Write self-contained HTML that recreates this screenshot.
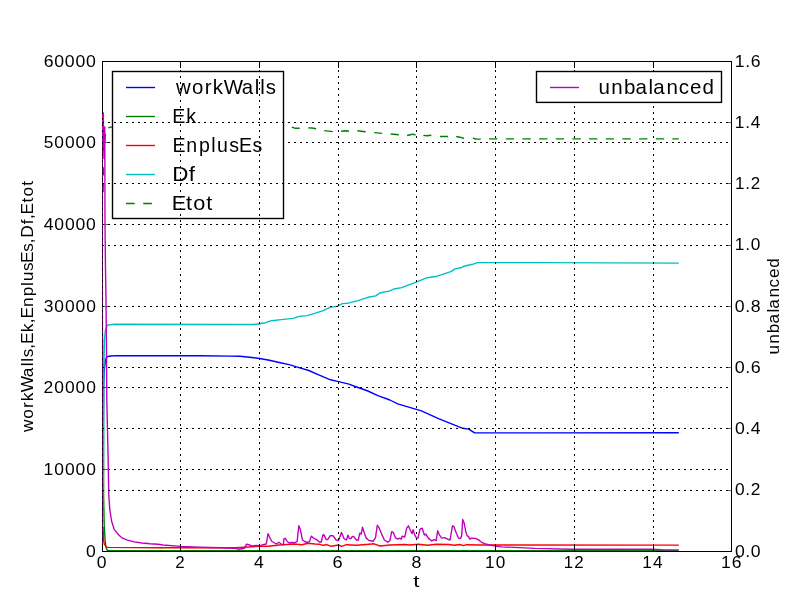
<!DOCTYPE html>
<html><head><meta charset="utf-8"><title>plot</title>
<style>html,body{margin:0;padding:0;background:#fff;}body{width:812px;height:612px;overflow:hidden;font-family:"Liberation Sans",sans-serif;}svg{display:block;will-change:transform;}</style>
</head><body>
<svg width="812" height="612" viewBox="0 0 812 612">
<rect x="0" y="0" width="812" height="612" fill="#fff"/>
<defs><clipPath id="c"><rect x="102" y="60.75" width="629.3" height="490.7"/></clipPath></defs>
<rect x="102.5" y="61.5" width="629.0" height="490.0" fill="none" stroke="#000" stroke-width="1" shape-rendering="crispEdges"/>
<g clip-path="url(#c)" fill="none" stroke-width="1.39" stroke-linejoin="round">
<path d="M101.8,550.8 L103.2,470.0 L103.4,420.0 L103.7,385.0 L104.3,370.0 L105.3,361.0 L106.3,358.0 L107.4,356.5 L111.0,356.0 L116.0,355.6 L200.0,355.8 L230.0,356.1 L239.9,356.2 L249.7,357.3 L259.6,358.5 L269.4,360.3 L279.3,362.5 L289.1,364.6 L299.0,367.6 L308.8,370.5 L318.7,374.9 L330.5,379.8 L338.4,381.6 L348.2,383.9 L358.1,387.5 L367.9,391.0 L377.8,395.6 L389.9,400.0 L397.7,403.9 L409.6,407.4 L421.4,410.8 L439.1,418.9 L462.8,428.3 L468.7,429.1 L474.6,432.9 L540.0,432.9 L678.8,432.7" stroke="#0000ff"/>
<path d="M102.1,127.0 L102.4,330.0 L103.4,400.0 L103.6,495.0 L104.2,525.0 L105.1,540.0 L105.9,547.0 L107.0,550.0 L109.0,550.8 L678.8,550.8" stroke="#008000"/>
<path d="M103.1,527.0 L103.5,540.0 L104.3,544.0 L105.8,546.3 L107.0,547.3 L108.0,547.4 L160.0,547.8 L235.0,547.7 L244.8,547.2 L259.6,546.3 L268.5,546.3 L279.3,545.0 L294.1,544.0 L302.0,544.7 L307.9,543.3 L315.0,544.0 L319.9,544.3 L322.8,545.3 L326.7,544.7 L331.2,546.3 L338.6,545.0 L341.5,546.3 L346.5,544.7 L356.3,545.3 L366.2,544.5 L374.0,543.8 L380.0,546.0 L390.0,545.0 L404.7,544.5 L409.6,545.0 L418.5,544.3 L427.4,545.3 L436.2,544.3 L449.0,544.5 L454.0,545.3 L459.9,544.5 L463.4,545.7 L466.8,544.7 L480.0,545.0 L678.8,545.1" stroke="#ff0000"/>
<path d="M101.8,550.8 L103.5,470.0 L103.9,369.0 L104.4,339.6 L105.4,329.7 L107.4,325.3 L110.0,324.8 L114.7,324.3 L230.0,324.5 L253.6,324.5 L259.6,323.7 L265.5,322.7 L271.4,320.7 L281.2,319.6 L293.1,318.4 L299.0,316.4 L306.8,315.6 L314.7,313.4 L322.6,310.9 L330.5,307.1 L337.4,306.2 L342.3,303.6 L348.2,303.2 L358.1,300.6 L367.9,297.3 L375.8,295.9 L379.8,293.0 L389.9,290.9 L393.8,289.0 L401.7,287.6 L415.5,282.3 L427.3,277.7 L437.1,276.2 L450.9,271.6 L454.9,268.9 L461.8,267.5 L463.7,266.3 L472.6,264.3 L477.5,262.6 L540.0,262.6 L678.8,263.1" stroke="#00bfbf"/>
<path d="M103.1,192.3 L103.3,184.0 M103.4,175.6 L103.6,167.3 M104.0,159.0 L104.3,150.6 M104.8,142.3 L105.4,134.0 M108.3,127.7 L112.0,126.9 M291.8,127.1 L295.5,128.3 L299.7,128.3 M308.2,127.9 L312.0,128.0 L316.1,128.8 M324.3,130.6 L332.8,131.6 M341.1,131.2 L346.0,130.8 L349.0,131.2 M357.4,130.8 L365.7,131.8 M374.2,132.6 L382.1,133.4 M390.7,134.0 L398.8,134.8 M407.1,135.5 L412.5,134.2 L415.6,135.0 M423.4,135.4 L427.0,135.7 L431.3,135.2 M439.9,136.5 L448.1,136.5 M456.2,136.5 L460.0,137.2 L463.9,138.5 M472.8,138.1 L476.0,139.0 L480.8,139.1 M489.1,138.9 L497.4,138.9 M505.8,138.9 L514.1,138.9 M522.4,138.9 L530.8,138.9 M539.1,138.9 L547.4,138.9 M555.8,138.9 L564.1,138.9 M572.4,138.9 L580.8,138.9 M589.1,138.9 L597.4,138.9 M605.8,138.9 L614.1,138.9 M622.4,138.9 L630.8,138.9 M639.1,138.9 L647.4,138.9 M655.8,138.9 L664.1,138.9 M672.4,138.9 L678.8,138.9" stroke="#008000"/>
</g>
<path d="M102.5,63.9V551 M180.5,63.9V551 M259.5,63.9V551 M338.5,63.9V551 M416.5,63.9V551 M495.5,63.9V551 M574.5,63.9V551 M653.5,63.9V551 M731.5,63.9V551" stroke="#000" stroke-width="1" stroke-dasharray="2 4" fill="none" shape-rendering="crispEdges"/>
<path d="M102,469.5H732 M102,387.5H732 M102,306.5H732 M102,224.5H732 M102,142.5H732" stroke="#000" stroke-width="1" stroke-dasharray="2 4" fill="none" shape-rendering="crispEdges"/>
<path d="M102.5,551V545.5 M102.5,62V67.5 M180.5,551V545.5 M180.5,62V67.5 M259.5,551V545.5 M259.5,62V67.5 M338.5,551V545.5 M338.5,62V67.5 M416.5,551V545.5 M416.5,62V67.5 M495.5,551V545.5 M495.5,62V67.5 M574.5,551V545.5 M574.5,62V67.5 M653.5,551V545.5 M653.5,62V67.5 M731.5,551V545.5 M731.5,62V67.5" stroke="#000" stroke-width="1" fill="none" shape-rendering="crispEdges"/>
<path d="M103,469.5H108 M103,387.5H108 M103,306.5H108 M103,224.5H108 M103,142.5H108" stroke="#000" stroke-opacity="0.62" stroke-width="1" fill="none" shape-rendering="crispEdges"/>
<rect x="112.5" y="71.5" width="171" height="147" fill="#fff" stroke="#000" stroke-width="1.39"/>
<path d="M126,87.5H155" stroke="#0000ff" stroke-width="1.39" fill="none"/>
<path d="M126,116.5H155" stroke="#008000" stroke-width="1.39" fill="none"/>
<path d="M126,145.5H155" stroke="#ff0000" stroke-width="1.39" fill="none"/>
<path d="M126,174.5H155" stroke="#00bfbf" stroke-width="1.39" fill="none"/>
<path d="M126,203.5H155" stroke="#008000" stroke-width="1.39" stroke-dasharray="8.7 8.5" fill="none"/>
<text transform="scale(0.9954,1)" x="176.77 192.85 205.81 213.82 224.84 242.88 255.99 261.58 266.89" y="93.60" font-family="Liberation Sans, sans-serif" font-size="20.50" fill="#000">workWalls</text>
<text transform="scale(0.9546,1)" x="180.48 195.13" y="122.60" font-family="Liberation Sans, sans-serif" font-size="20.50" fill="#000">Ek</text>
<text transform="scale(0.9544,1)" x="180.63 195.12 208.51 221.35 227.43 240.29 250.48 264.45" y="151.60" font-family="Liberation Sans, sans-serif" font-size="20.50" fill="#000">EnplusEs</text>
<text transform="scale(1.0934,1)" x="157.54 172.57" y="180.60" font-family="Liberation Sans, sans-serif" font-size="20.50" fill="#000">Df</text>
<text transform="scale(1.0584,1)" x="162.17 175.86 182.55 194.83" y="209.60" font-family="Liberation Sans, sans-serif" font-size="20.50" fill="#000">Etot</text>
<rect x="102.5" y="61.5" width="629.0" height="490.0" fill="none" stroke="#000" stroke-width="1" shape-rendering="crispEdges"/>
<g clip-path="url(#c)" fill="none" stroke-width="1.39" stroke-linejoin="round">
<path d="M101.8,544.0 L101.8,150.0 L102.6,113.0 L103.3,113.0 L103.7,150.0 L104.7,159.0 L104.8,127.0 L105.0,225.0 L105.5,270.0 L106.0,300.0 L106.4,340.0 L106.8,400.0 L108.0,452.0 L108.8,495.0 L109.8,509.7 L111.7,521.5 L114.2,529.3 L117.6,533.7 L121.5,537.6 L127.4,540.1 L134.3,541.9 L142.1,543.0 L150.0,543.8 L158.0,544.3 L163.0,545.0 L180.5,546.4 L199.6,547.2 L220.5,547.7 L235.0,548.4 L238.9,549.2 L244.4,548.2 L246.6,544.2 L248.8,544.7 L251.7,546.0 L256.2,545.5 L259.6,545.8 L263.1,544.7 L266.3,544.0 L268.0,533.6 L269.5,537.1 L271.9,541.5 L276.4,544.0 L278.8,542.3 L281.3,544.0 L283.3,545.0 L284.0,538.6 L285.2,538.3 L287.2,541.5 L289.2,543.0 L291.2,542.5 L294.1,542.8 L297.1,541.7 L298.8,525.8 L300.0,528.2 L302.5,540.0 L304.9,541.7 L307.4,542.3 L309.4,541.7 L311.3,536.1 L313.4,538.1 L315.9,539.1 L319.4,542.0 L321.3,542.0 L322.8,535.1 L323.8,534.6 L326.3,539.6 L327.7,539.6 L330.2,535.6 L333.2,535.8 L336.1,540.0 L338.6,540.5 L341.5,532.5 L344.0,538.6 L346.5,540.0 L347.9,535.1 L349.4,538.6 L350.9,538.6 L352.4,536.4 L353.8,536.6 L356.3,540.0 L358.3,540.0 L359.8,533.2 L361.2,534.1 L362.5,527.2 L364.2,532.7 L366.2,538.1 L369.1,540.5 L373.1,541.3 L375.5,537.6 L377.3,525.3 L379.0,527.7 L381.9,534.6 L384.4,540.0 L387.8,542.2 L389.9,540.5 L391.7,531.7 L393.4,532.7 L395.3,537.6 L397.8,539.1 L399.8,538.1 L401.3,539.1 L402.2,536.1 L404.7,537.1 L406.7,528.2 L408.4,525.8 L410.1,529.7 L412.1,533.6 L413.1,529.7 L414.6,534.6 L416.5,538.1 L418.0,538.1 L420.0,529.2 L422.2,528.2 L424.4,535.1 L425.9,534.1 L428.3,538.1 L431.8,541.0 L433.8,539.6 L436.2,540.5 L437.7,530.7 L439.2,534.6 L441.7,538.1 L444.6,537.6 L447.6,539.1 L450.0,540.0 L452.5,525.8 L454.0,526.7 L455.4,530.7 L456.5,533.6 L458.4,538.1 L460.4,538.6 L461.7,535.6 L462.7,519.4 L464.1,522.8 L465.8,531.7 L467.3,536.1 L468.3,536.1 L469.8,539.1 L471.7,538.1 L475.2,538.4 L478.2,539.6 L481.6,542.3 L484.6,543.7 L489.5,545.0 L495.4,546.0 L501.3,546.9 L514.1,547.4 L535.0,548.4 L569.4,549.2 L652.2,549.2 L664.0,549.9 L678.8,549.9" stroke="#bf00bf"/>
</g>
<path d="M102.5,63.9V551 M180.5,63.9V551 M259.5,63.9V551 M338.5,63.9V551 M416.5,63.9V551 M495.5,63.9V551 M574.5,63.9V551 M653.5,63.9V551 M731.5,63.9V551" stroke="#000" stroke-width="1" stroke-dasharray="2 4" fill="none" shape-rendering="crispEdges"/>
<path d="M102,490.5H732 M102,428.5H732 M102,367.5H732 M102,306.5H732 M102,245.5H732 M102,183.5H732 M102,122.5H732" stroke="#000" stroke-width="1" stroke-dasharray="2 4" fill="none" shape-rendering="crispEdges"/>
<path d="M102.5,551V545.5 M102.5,62V67.5 M180.5,551V545.5 M180.5,62V67.5 M259.5,551V545.5 M259.5,62V67.5 M338.5,551V545.5 M338.5,62V67.5 M416.5,551V545.5 M416.5,62V67.5 M495.5,551V545.5 M495.5,62V67.5 M574.5,551V545.5 M574.5,62V67.5 M653.5,551V545.5 M653.5,62V67.5 M731.5,551V545.5 M731.5,62V67.5" stroke="#000" stroke-width="1" fill="none" shape-rendering="crispEdges"/>
<path d="M731,490.5H726 M731,428.5H726 M731,367.5H726 M731,306.5H726 M731,245.5H726 M731,183.5H726 M731,122.5H726" stroke="#000" stroke-opacity="0.62" stroke-width="1" fill="none" shape-rendering="crispEdges"/>
<rect x="536.5" y="71.5" width="185" height="30.9" fill="#fff" stroke="#000" stroke-width="1.39"/>
<path d="M550,87.5H579" stroke="#bf00bf" stroke-width="1.39" fill="none"/>
<text transform="scale(1.0026,1)" x="596.85 609.58 622.32 633.89 646.94 651.66 664.88 676.99 688.30 700.61" y="93.60" font-family="Liberation Sans, sans-serif" font-size="20.50" fill="#000">unbalanced</text>
<text transform="scale(1.0337,1)" x="83.31" y="556.75" font-family="Liberation Sans, sans-serif" font-size="17.00" fill="#000">0</text>
<text transform="scale(1.0251,1)" x="42.57 53.00 63.35 73.70 84.04" y="475.08" font-family="Liberation Sans, sans-serif" font-size="17.00" fill="#000">10000</text>
<text transform="scale(1.0265,1)" x="42.38 52.93 63.26 73.59 83.92" y="393.42" font-family="Liberation Sans, sans-serif" font-size="17.00" fill="#000">20000</text>
<text transform="scale(1.0255,1)" x="42.66 52.98 63.32 73.66 84.01" y="311.75" font-family="Liberation Sans, sans-serif" font-size="17.00" fill="#000">30000</text>
<text transform="scale(1.0337,1)" x="42.26 52.53 62.79 73.05 83.31" y="230.08" font-family="Liberation Sans, sans-serif" font-size="17.00" fill="#000">40000</text>
<text transform="scale(1.0221,1)" x="42.73 53.17 63.55 73.93 84.30" y="148.42" font-family="Liberation Sans, sans-serif" font-size="17.00" fill="#000">50000</text>
<text transform="scale(1.0407,1)" x="41.95 52.14 62.33 72.52 82.71" y="66.75" font-family="Liberation Sans, sans-serif" font-size="17.00" fill="#000">60000</text>
<text transform="scale(1.0362,1)" x="709.26 719.30 724.61" y="556.75" font-family="Liberation Sans, sans-serif" font-size="17.00" fill="#000">0.0</text>
<text transform="scale(1.0197,1)" x="720.79 730.95 736.17" y="495.50" font-family="Liberation Sans, sans-serif" font-size="17.00" fill="#000">0.2</text>
<text transform="scale(1.0362,1)" x="709.26 719.30 724.61" y="434.25" font-family="Liberation Sans, sans-serif" font-size="17.00" fill="#000">0.4</text>
<text transform="scale(1.0523,1)" x="698.29 708.21 713.41" y="373.00" font-family="Liberation Sans, sans-serif" font-size="17.00" fill="#000">0.6</text>
<text transform="scale(1.0412,1)" x="705.79 715.79 721.06" y="311.75" font-family="Liberation Sans, sans-serif" font-size="17.00" fill="#000">0.8</text>
<text transform="scale(1.0163,1)" x="723.09 733.36 738.83" y="250.50" font-family="Liberation Sans, sans-serif" font-size="17.00" fill="#000">1.0</text>
<text transform="scale(0.9986,1)" x="736.00 746.41 751.79" y="189.25" font-family="Liberation Sans, sans-serif" font-size="17.00" fill="#000">1.2</text>
<text transform="scale(1.0168,1)" x="722.74 733.00 738.46" y="128.00" font-family="Liberation Sans, sans-serif" font-size="17.00" fill="#000">1.4</text>
<text transform="scale(1.0329,1)" x="711.39 721.54 726.88" y="66.75" font-family="Liberation Sans, sans-serif" font-size="17.00" fill="#000">1.6</text>
<text transform="scale(1.0337,1)" x="93.52" y="568.00" font-family="Liberation Sans, sans-serif" font-size="17.00" fill="#000">0</text>
<text transform="scale(0.9964,1)" x="175.98" y="568.00" font-family="Liberation Sans, sans-serif" font-size="17.00" fill="#000">2</text>
<text transform="scale(1.0338,1)" x="245.78" y="568.00" font-family="Liberation Sans, sans-serif" font-size="17.00" fill="#000">4</text>
<text transform="scale(1.0698,1)" x="310.92" y="568.00" font-family="Liberation Sans, sans-serif" font-size="17.00" fill="#000">6</text>
<text transform="scale(1.0449,1)" x="393.79" y="568.00" font-family="Liberation Sans, sans-serif" font-size="17.00" fill="#000">8</text>
<text transform="scale(1.0117,1)" x="479.35 489.92" y="568.00" font-family="Liberation Sans, sans-serif" font-size="17.00" fill="#000">10</text>
<text transform="scale(0.9919,1)" x="568.34 578.89" y="568.00" font-family="Liberation Sans, sans-serif" font-size="17.00" fill="#000">12</text>
<text transform="scale(1.0123,1)" x="634.53 645.09" y="568.00" font-family="Liberation Sans, sans-serif" font-size="17.00" fill="#000">14</text>
<text transform="scale(1.0299,1)" x="700.03 710.41" y="568.00" font-family="Liberation Sans, sans-serif" font-size="17.00" fill="#000">16</text>
<text transform="scale(1.3106,1)" x="315.35" y="587.00" font-family="Liberation Sans, sans-serif" font-size="17.00" fill="#000">t</text>
<text transform="translate(33.30,0) rotate(-90) scale(1.0160,1)" x="-425.31 -412.16 -401.55 -395.04 -386.09 -371.31 -360.55 -355.99 -351.69 -343.20 -338.60 -327.06 -318.12 -313.52 -302.11 -291.63 -281.41 -276.81 -266.70 -258.83 -247.79 -239.30 -233.96 -220.79 -215.68 -211.08 -199.36 -193.44 -182.89" y="0.00" font-family="Liberation Sans, sans-serif" font-size="17.00" fill="#000">workWalls,Ek,EnplusEs,Df,Etot</text>
<text transform="translate(779.20,0) rotate(-90) scale(1.0077,1)" x="-351.73 -341.18 -330.61 -321.02 -310.20 -306.28 -295.32 -285.28 -275.90 -265.69" y="0.00" font-family="Liberation Sans, sans-serif" font-size="17.00" fill="#000">unbalanced</text>
</svg>
</body></html>
